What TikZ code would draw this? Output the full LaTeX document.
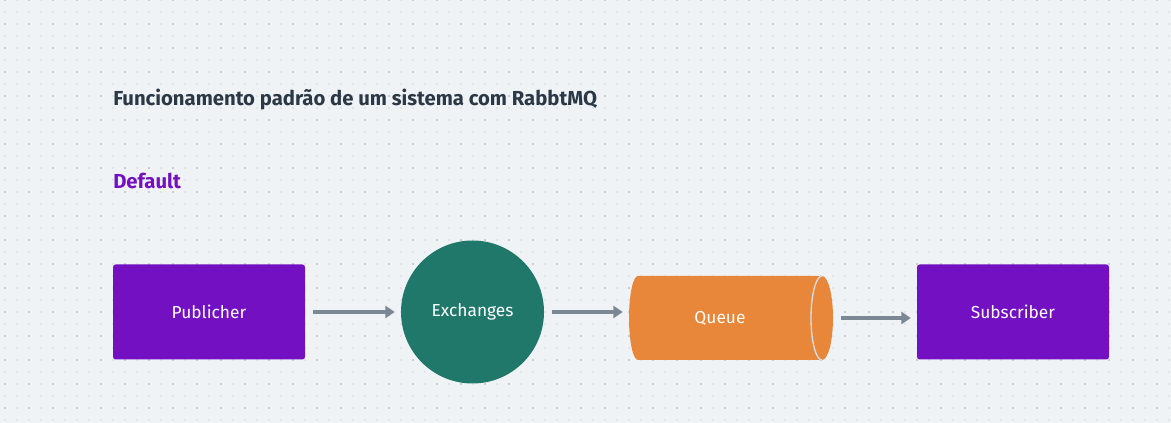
\documentclass[tikz,border=0pt]{standalone}
\usepackage{fontspec}
\setmainfont{Fira Sans}
\usetikzlibrary{arrows.meta,positioning}

\definecolor{bgpaper}{HTML}{F0F3F6}
\definecolor{dotlight}{HTML}{E1E5EA}
\definecolor{dotdark}{HTML}{C9CED6}
\definecolor{rabbitpurple}{HTML}{7210C2}
\definecolor{exchteal}{HTML}{20786A}
\definecolor{queueorange}{HTML}{E8873A}
\definecolor{arrowgray}{HTML}{7B8794}
\definecolor{titleslate}{HTML}{2B3845}
\definecolor{queueline}{HTML}{D9DEE4}

\tikzset{
  procbox/.style={fill=rabbitpurple, rounded corners=2pt, minimum width=144pt, minimum height=71.25pt,
    text=white, font=\fontsize{13}{15}\selectfont},
  exchcircle/.style={circle, fill=exchteal, minimum size=107.25pt, inner sep=0pt,
    text=white, font=\fontsize{13}{15}\selectfont},
  queuebox/.style={minimum width=153pt, minimum height=63pt, inner sep=0pt},
  headline/.style={anchor=base west, inner sep=0pt, font=\fontsize{15.2}{18}\bfseries},
  flowarrow/.style={draw=arrowgray, line width=3pt, shorten <=6pt, shorten >=4.5pt,
    -{Triangle[length=7pt,width=9pt]}},
}

\begin{document}
\begin{tikzpicture}[x=0.75pt,y=0.75pt,yscale=-1,xscale=1]
\useasboundingbox (0,0) rectangle (1171,423);

% Background and dot grid
\fill[bgpaper] (0,0) rectangle (1171,423);
\foreach \x in {5,17,...,1169}
  \foreach \y in {0,12,...,420}
    \fill[dotlight] (\x-1,\y-1) rectangle (\x+1,\y+1);
\foreach \x in {5,29,...,1169}
  \foreach \y in {0,24,...,420}
    \fill[dotdark] (\x-1,\y-1) rectangle (\x+1,\y+1);

% Text Node
\node[headline, text=titleslate] (title) at (113,106) {Funcionamento padrão de um sistema com RabbtMQ};
% Text Node
\node[headline, text=rabbitpurple] (default) at (113,189) {Default};

% Shape: Rectangle
\node[procbox] (pub) at (209,312) {Publicher};
% Shape: Circle
\node[exchcircle] (exch) at (472.5,312) {Exchanges};
% Shape: Cylinder
\node[queuebox] (queue) at (731,318) {};
\fill[queueorange] (638,276) -- (822,276) arc[start angle=-90, end angle=90, x radius=11, y radius=42]
  -- (638,360) arc[start angle=90, end angle=270, x radius=9, y radius=42] -- cycle;
\draw[queueline, line width=1pt] (822,276) arc[start angle=-90, end angle=-270, x radius=11, y radius=42];
\node[text=white, font=\fontsize{13}{15}\selectfont] (queuetxt) at (720,318) {Queue};
% Shape: Rectangle
\node[procbox] (sub) at (1013,312) {Subscriber};

% Connection
\draw[flowarrow] (pub.east) -- (exch.west);
% Connection
\draw[flowarrow] (exch.east) -- (exch.east -| queue.west);
% Connection
\draw[flowarrow] (queue.east) -- (queue.east -| sub.west);

\end{tikzpicture}
\end{document}
